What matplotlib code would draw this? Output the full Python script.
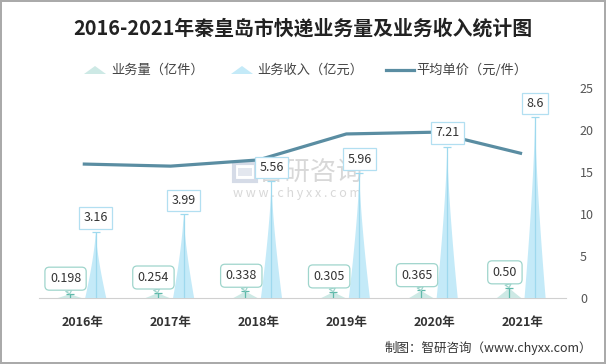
import numpy as np
import matplotlib.pyplot as plt
from matplotlib.patches import Polygon, Rectangle
from matplotlib.lines import Line2D

plt.rcParams['font.family'] = ['Noto Sans CJK SC', 'DejaVu Sans']

# data
years = ['2016年', '2017年', '2018年', '2019年', '2020年', '2021年']
volume = [0.198, 0.254, 0.338, 0.305, 0.365, 0.50]       # 亿件
revenue = [3.16, 3.99, 5.56, 5.96, 7.21, 8.6]            # 亿元
price = [15.96, 15.71, 16.45, 19.54, 19.75, 17.20]       # 元/件
vol_labels = ['0.198', '0.254', '0.338', '0.305', '0.365', '0.50']
rev_labels = ['3.16', '3.99', '5.56', '5.96', '7.21', '8.6']

c_vol = '#cde9e5'
c_vol_edge = '#9fd5cc'
c_rev = '#c4eaf8'
c_rev_edge = '#b2dff1'
c_line = '#5a8da2'


def spike(xc, h, half, p=1.3, n=30):
    t = np.linspace(0, 1, n)
    left = np.column_stack([xc - half * (1 - t) ** p, h * t])
    right = np.column_stack([xc + half * (1 - t[::-1]) ** p, h * t[::-1]])
    return np.vstack([left, right])


def fx(px):
    return px / 606


def fy(py):
    return 1 - py / 364


fig = plt.figure(figsize=(6.06, 3.64), dpi=100)
fig.patch.set_edgecolor('#aaaaaa')
fig.patch.set_linewidth(1.5)

ax2 = fig.add_axes([0.064, 0.181, 0.870, 0.577])
ax2.patch.set_visible(False)
ax = ax2.twinx()
ax.set_zorder(ax2.get_zorder() + 1)
ax.patch.set_visible(False)

x = np.arange(len(years))
off = 0.148

# watermark (behind everything)
wm = '#d8d8d8'
fig.add_artist(Rectangle((fx(234), fy(181)), fx(22), fy(163) - fy(181),
                         transform=fig.transFigure, fill=False, ec='#d5dbe7', lw=3, zorder=-1))
fig.add_artist(Rectangle((fx(238), fy(176)), fx(14), fy(168) - fy(176),
                         transform=fig.transFigure, fc='#e3e7ef', ec='none', zorder=-1))
fig.text(fx(258), fy(172), '智研咨询', fontsize=19, color=wm, ha='left', va='center', zorder=-1)
fig.text(fx(233), fy(194), 'w w w . c h y x x . c o m', fontsize=9, color=wm,
         ha='left', va='center', zorder=-1)

# line, right axis
ax2.plot(x, price, color=c_line, lw=2.3, solid_capstyle='butt', zorder=3)
ax2.set_ylim(0, 25)
ax2.set_xlim(-0.5, len(years) - 0.5)
ax2.yaxis.tick_right()
ax2.set_yticks([0, 5, 10, 15, 20, 25])
ax2.tick_params(axis='y', length=0, pad=10, labelsize=9, labelcolor='#555555')
ax2.set_xticks(x)
ax2.set_xticklabels(years, fontsize=9, fontweight='bold', color='#333333')
ax2.tick_params(axis='x', length=0, pad=13)
for s in ['top', 'left', 'right']:
    ax2.spines[s].set_visible(False)
ax2.spines['bottom'].set_color('#d0d0d0')

# spikes, hidden left axis
ax.set_ylim(0, 10)
ax.set_yticks([])
for s in ax.spines.values():
    s.set_visible(False)

for i in range(len(years)):
    xv = x[i] - off
    xr = x[i] + off
    ax.add_patch(Polygon(spike(xv, volume[i], 0.14, p=1.1), closed=True,
                         fc=c_vol, ec='none', zorder=2))
    ax.add_patch(Polygon(spike(xr, revenue[i], 0.12, p=1.4), closed=True,
                         fc=c_rev, ec='none', zorder=2))
    # stems
    ax.vlines(xr, 0, revenue[i], color='#9ed9ee', lw=0.9, zorder=3)
    ax.plot(xr, revenue[i], marker='_', ms=6, mew=0.9, color='#9ed9ee', zorder=3)
    ax.vlines(xv, 0, volume[i], color='#5fb9aa', lw=0.9, zorder=3)
    ax.plot(xv, volume[i], marker='_', ms=6, mew=0.9, color='#5fb9aa', zorder=3)

    ax.annotate(rev_labels[i], xy=(xr, revenue[i]), xytext=(0, 10),
                textcoords='offset points', ha='center', va='center',
                fontsize=9, color='#333333', zorder=5,
                bbox=dict(boxstyle='square,pad=0.35', fc='white',
                          ec=c_rev_edge, lw=0.9))
    ax.annotate(vol_labels[i], xy=(xv, volume[i]), xytext=(-3, 11),
                textcoords='offset points', ha='center', va='center',
                fontsize=9, color='#333333', zorder=5,
                bbox=dict(boxstyle='round,pad=0.4,rounding_size=0.35',
                          fc='white', ec=c_vol_edge, lw=0.9),
                arrowprops=dict(arrowstyle='wedge,tail_width=0.5,shrink_factor=0.5',
                                fc='white', ec=c_vol_edge, lw=0.9,
                                shrinkA=0, shrinkB=0))

# title
fig.text(0.5, 0.922, '2016-2021年秦皇岛市快递业务量及业务收入统计图', fontsize=14.3,
         fontweight='bold', color='#222222', ha='center', va='center')

# legend
leg_y = 70
fig.add_artist(Polygon([[fx(84), fy(74)], [fx(95), fy(66)], [fx(106), fy(74)]],
                       closed=True, transform=fig.transFigure, fc=c_vol, ec='none'))
fig.text(fx(111), fy(leg_y), '业务量（亿件）', fontsize=9.5, color='#444444', va='center')
fig.add_artist(Polygon([[fx(231), fy(74)], [fx(242), fy(66)], [fx(253), fy(74)]],
                       closed=True, transform=fig.transFigure, fc=c_rev, ec='none'))
fig.text(fx(257), fy(leg_y), '业务收入（亿元）', fontsize=9.5, color='#444444', va='center')
fig.add_artist(Line2D([fx(386), fx(414)], [fy(leg_y), fy(leg_y)], transform=fig.transFigure,
                      color=c_line, lw=2.3))
fig.text(fx(416), fy(leg_y), '平均单价（元/件）', fontsize=9.5, color='#444444', va='center')

# source
fig.text(fx(592), fy(348), '制图：智研咨询（www.chyxx.com）', fontsize=9, color='#333333',
         ha='right', va='center')

fig.savefig('out.png', dpi=100, edgecolor=fig.get_edgecolor())
